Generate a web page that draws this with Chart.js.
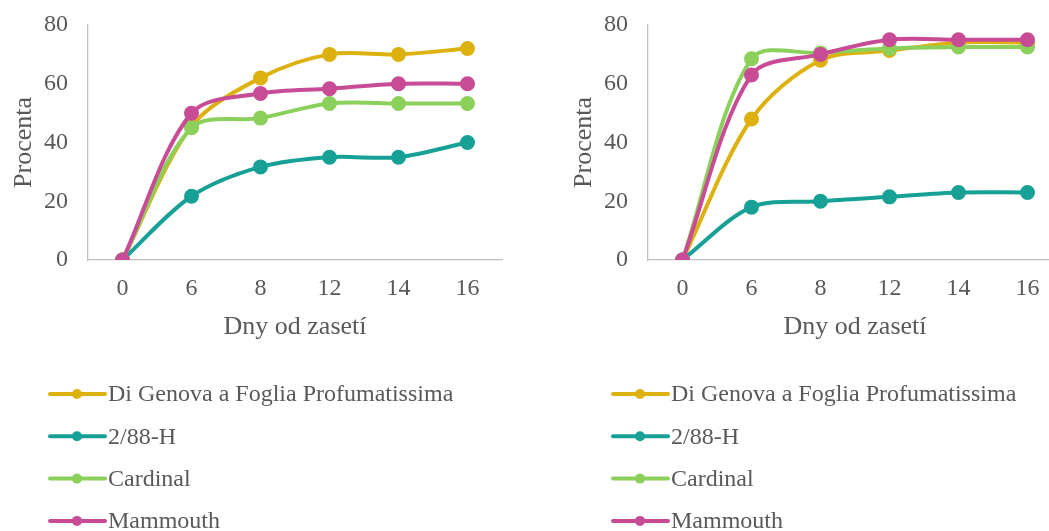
<!DOCTYPE html>
<html>
<head>
<meta charset="utf-8">
<script src="https://cdn.jsdelivr.net/npm/chart.js@4/dist/chart.umd.min.js"></script>
<style>
  html, body { margin: 0; padding: 0; background: #fff; overflow: hidden; }
  .box { position: absolute; top: 0; width: 525px; height: 531px; }
</style>
</head>
<body>
<div class="box" style="left:0"><canvas id="chartLeft"></canvas></div>
<div class="box" style="left:560px"><canvas id="chartRight"></canvas></div>
<script>
/* Data */
const days = ['0', '6', '8', '12', '14', '16'];
const seriesNames = ['Di Genova a Foglia Profumatissima', '2/88-H', 'Cardinal', 'Mammouth'];
const seriesColors = ['#DDB10F', '#17A196', '#8CD05C', '#C84B95'];

// left chart
const leftGenova = [0, 45.5, 62, 70, 70, 72];
const leftH88 = [0, 21.7, 31.7, 35, 35, 40];
const leftCardinal = [0, 45, 48.3, 53.3, 53.3, 53.3];
const leftMammouth = [0, 50, 56.7, 58.3, 60, 60];

// right chart
const rightGenova = [0, 48, 68, 71.3, 74, 74];
const rightH88 = [0, 18, 20, 21.5, 23, 23];
const rightCardinal = [0, 68.5, 70.5, 72, 72.5, 72.5];
const rightMammouth = [0, 63, 70, 75, 75, 75];

const yTicks = [0, 20, 40, 60, 80];

const textColor = '#595959';
const fontFamily = '"Liberation Serif", "Times New Roman", serif';

// Legend drawn as line + dot rows under the plot
const lineLegend = {
    id: 'lineLegend',
    afterDraw(chart, args, opts) {
        const ctx = chart.ctx;
        const x0 = opts.x;
        ctx.save();
        chart.data.datasets.forEach((ds, i) => {
            const y = 394 + i * 42.3;
            ctx.strokeStyle = ds.borderColor;
            ctx.lineWidth = 4;
            ctx.lineCap = 'round';
            ctx.beginPath();
            ctx.moveTo(x0, y);
            ctx.lineTo(x0 + 55, y);
            ctx.stroke();
            ctx.fillStyle = ds.borderColor;
            ctx.beginPath();
            ctx.arc(x0 + 27, y, 5, 0, Math.PI * 2);
            ctx.fill();
            ctx.fillStyle = textColor;
            ctx.font = '24px ' + fontFamily;
            ctx.textBaseline = 'middle';
            ctx.textAlign = 'left';
            ctx.fillText(ds.label, x0 + 58, y + 1);
        });
        ctx.restore();
    }
};

function makeDatasets(values) {
    return values.map((vals, i) => ({
        label: seriesNames[i],
        data: vals,
        borderColor: seriesColors[i],
        backgroundColor: seriesColors[i],
        borderWidth: 4,
        pointRadius: 5.5,
        pointHoverRadius: 5.5,
        tension: 0.32,
        order: values.length - i
    }));
}

function makeChart(id, values, legendX) {
    return new Chart(document.getElementById(id), {
        type: 'line',
        data: { labels: days, datasets: makeDatasets(values) },
        options: {
            responsive: true,
            maintainAspectRatio: false,
            animation: false,
            layout: { padding: { top: 25, right: 23, bottom: 188, left: 0 } },
            plugins: {
                legend: { display: false },
                tooltip: { enabled: false },
                lineLegend: { x: legendX }
            },
            scales: {
                x: {
                    offset: true,
                    grid: { display: false, drawTicks: false },
                    border: { color: '#BFBFBF', width: 1.3 },
                    ticks: { color: textColor, font: { family: fontFamily, size: 24 }, padding: 14 },
                    title: { display: true, text: 'Dny od zasetí', color: textColor, font: { family: fontFamily, size: 26 }, padding: 0 },
                    afterFit(scale) { scale.height = 83; }
                },
                y: {
                    min: 0,
                    max: 80,
                    afterBuildTicks(scale) { scale.ticks = yTicks.map(v => ({ value: v })); },
                    grid: { display: false, drawTicks: false },
                    border: { color: '#BFBFBF', width: 1.3 },
                    ticks: { color: textColor, font: { family: fontFamily, size: 24 }, padding: 20 },
                    title: { display: true, text: 'Procenta', color: textColor, font: { family: fontFamily, size: 26 }, padding: { top: 9, bottom: 0 } },
                    afterFit(scale) {
                        scale.width = 88;
                        scale.paddingTop = 0;
                        scale.paddingBottom = 0;
                    }
                }
            }
        },
        plugins: [lineLegend]
    });
}

makeChart('chartLeft', [leftGenova, leftH88, leftCardinal, leftMammouth], 50);
makeChart('chartRight', [rightGenova, rightH88, rightCardinal, rightMammouth], 53);
</script>
</body>
</html>
